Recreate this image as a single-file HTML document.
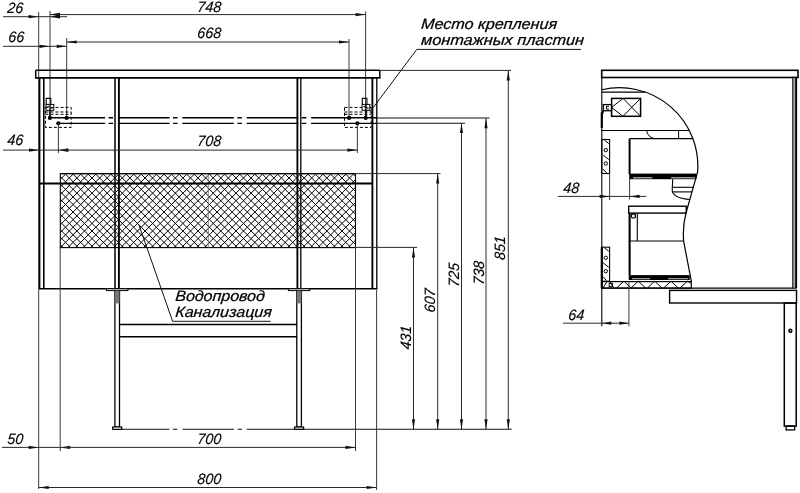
<!DOCTYPE html>
<html><head><meta charset="utf-8"><style>
html,body{margin:0;padding:0;background:#fff;overflow:hidden;width:800px;height:493px;}
svg{display:block;will-change:transform;}
text{font-family:"Liberation Sans",sans-serif;font-style:italic;fill:#000;stroke:#000;stroke-width:0.15;}
text.c{stroke:#000;stroke-width:0.25;}
</style></head><body>
<svg width="800" height="493" viewBox="0 0 800 493">
<rect width="800" height="493" fill="#fff"/>
<text x="7" y="13.5" font-size="15" text-anchor="start" transform="translate(7 13.5) skewX(-5) scale(0.95 1) translate(-7 -13.5)" >26</text>
<line x1="3" y1="16.7" x2="67" y2="16.7" stroke="#2a2a2a" stroke-width="1" />
<polygon points="38.5,16.7 28.5,15.1 28.5,18.3" fill="#111"/>
<polygon points="50,16.7 60,14.899999999999999 60,18.5" fill="#111"/>
<line x1="50" y1="14.6" x2="365.6" y2="14.6" stroke="#2a2a2a" stroke-width="1" />
<polygon points="50,14.6 60,12.799999999999999 60,16.4" fill="#111"/>
<polygon points="365.6,14.6 355.6,13.0 355.6,16.2" fill="#111"/>
<text x="209" y="11.5" font-size="15" text-anchor="middle" transform="translate(209 11.5) skewX(-5) scale(0.95 1) translate(-209 -11.5)" >748</text>
<line x1="38.7" y1="12" x2="38.7" y2="489" stroke="#3a3a3a" stroke-width="1" />
<line x1="50" y1="11" x2="50" y2="118" stroke="#3a3a3a" stroke-width="1" />
<line x1="365.6" y1="11.5" x2="365.6" y2="118" stroke="#3a3a3a" stroke-width="1" />
<text x="8" y="42.5" font-size="15" text-anchor="start" transform="translate(8 42.5) skewX(-5) scale(0.95 1) translate(-8 -42.5)" >66</text>
<line x1="3" y1="46.3" x2="66.7" y2="46.3" stroke="#2a2a2a" stroke-width="1" />
<polygon points="49.5,46.3 39.5,44.699999999999996 39.5,47.9" fill="#111"/>
<polygon points="66.7,46.3 56.7,44.699999999999996 56.7,47.9" fill="#111"/>
<line x1="66.7" y1="42" x2="349" y2="42" stroke="#2a2a2a" stroke-width="1" />
<polygon points="66.7,42 76.7,40.4 76.7,43.6" fill="#111"/>
<polygon points="349,42 339,40.4 339,43.6" fill="#111"/>
<text x="209" y="38.5" font-size="15" text-anchor="middle" transform="translate(209 38.5) skewX(-5) scale(0.95 1) translate(-209 -38.5)" >668</text>
<line x1="66.7" y1="38" x2="66.7" y2="118" stroke="#3a3a3a" stroke-width="1" />
<line x1="349" y1="39" x2="349" y2="118" stroke="#3a3a3a" stroke-width="1" />
<line x1="35.7" y1="70.3" x2="379.8" y2="70.3" stroke="#000" stroke-width="1.5" />
<line x1="35" y1="77.9" x2="380.5" y2="77.9" stroke="#000" stroke-width="1.9" />
<line x1="35.7" y1="70.3" x2="35.7" y2="77.9" stroke="#000" stroke-width="1.5" />
<line x1="379.8" y1="70.3" x2="379.8" y2="77.9" stroke="#000" stroke-width="1.5" />
<line x1="379.8" y1="70.4" x2="511" y2="70.4" stroke="#2a2a2a" stroke-width="1" />
<line x1="39.6" y1="77.3" x2="39.6" y2="288.8" stroke="#000" stroke-width="1.6" />
<line x1="43.8" y1="77.3" x2="43.8" y2="288.8" stroke="#000" stroke-width="1.6" />
<line x1="115" y1="77.3" x2="115" y2="288.8" stroke="#000" stroke-width="1.5" />
<line x1="118.9" y1="77.3" x2="118.9" y2="288.8" stroke="#000" stroke-width="1.9" />
<line x1="297.4" y1="77.3" x2="297.4" y2="288.8" stroke="#000" stroke-width="1.9" />
<line x1="300.8" y1="77.3" x2="300.8" y2="288.8" stroke="#000" stroke-width="1.3" />
<line x1="372.4" y1="77.3" x2="372.4" y2="288.8" stroke="#000" stroke-width="1.9" />
<line x1="376.8" y1="77.3" x2="376.8" y2="288.8" stroke="#000" stroke-width="1.3" />
<line x1="39" y1="288.8" x2="377.5" y2="288.8" stroke="#000" stroke-width="1.4" />
<path d="M49,117.8 L105.1,117.8 M108.6,117.8 L113.1,117.8 M117.9,117.8 L169.5,117.8 M173,117.8 L177.5,117.8 M182.3,117.8 L233.9,117.8 M237.4,117.8 L241.9,117.8 M246.7,117.8 L298.3,117.8 M301.8,117.8 L306.3,117.8 M311.1,117.8 L376.8,117.8" fill="none" stroke="#000" stroke-width="1.6" />
<line x1="376.8" y1="118" x2="489.5" y2="118" stroke="#111" stroke-width="1.2" />
<path d="M58.4,123.3 L105.1,123.3 M108.6,123.3 L113.1,123.3 M117.9,123.3 L169.5,123.3 M173,123.3 L177.5,123.3 M182.3,123.3 L233.9,123.3 M237.4,123.3 L241.9,123.3 M246.7,123.3 L298.3,123.3 M301.8,123.3 L306.3,123.3 M311.1,123.3 L376.8,123.3" fill="none" stroke="#000" stroke-width="1.2" />
<line x1="376.8" y1="123.2" x2="465" y2="123.2" stroke="#111" stroke-width="1.1" />
<rect x="45.5" y="107.4" width="25.7" height="20.0" stroke="#000" stroke-width="1" fill="none" stroke-dasharray="3 2"/>
<line x1="45.5" y1="112" x2="71.2" y2="112" stroke="#000" stroke-width="1" stroke-dasharray="3 2"/>
<line x1="45.5" y1="114.3" x2="71.2" y2="114.3" stroke="#000" stroke-width="1" stroke-dasharray="3 2"/>
<path d="M46.2,104.2 L46.2,98.4 L50.800000000000004,98.4 L50.800000000000004,104.2" fill="none" stroke="#000" stroke-width="1.1" />
<rect x="46.0" y="104.4" width="7.8" height="5.9" stroke="#000" stroke-width="1.0" fill="none" />
<path d="M50.0,104.4 L50.0,110.3 M47.400000000000006,106.5 L48.800000000000004,106.5 M51.2,108.2 L52.6,108.2" fill="none" stroke="#000" stroke-width="1" />
<line x1="50.0" y1="110.3" x2="50.0" y2="117" stroke="#000" stroke-width="1.4" />
<circle cx="49.9" cy="117.9" r="2.1" fill="#000"/>
<circle cx="66.6" cy="117.9" r="2.1" fill="#000"/>
<circle cx="58.4" cy="123.3" r="2.1" fill="#000"/>
<line x1="58.4" y1="123.3" x2="58.4" y2="153" stroke="#3a3a3a" stroke-width="1" />
<rect x="344.5" y="107.4" width="26.7" height="20.0" stroke="#000" stroke-width="1" fill="none" stroke-dasharray="3 2"/>
<line x1="344.5" y1="112" x2="371.2" y2="112" stroke="#000" stroke-width="1" stroke-dasharray="3 2"/>
<line x1="344.5" y1="114.3" x2="371.2" y2="114.3" stroke="#000" stroke-width="1" stroke-dasharray="3 2"/>
<path d="M362.3,104.2 L362.3,98.4 L366.90000000000003,98.4 L366.90000000000003,104.2" fill="none" stroke="#000" stroke-width="1.1" />
<rect x="362.1" y="104.4" width="7.8" height="5.9" stroke="#000" stroke-width="1.0" fill="none" />
<path d="M366.1,104.4 L366.1,110.3 M363.5,106.5 L364.90000000000003,106.5 M367.3,108.2 L368.7,108.2" fill="none" stroke="#000" stroke-width="1" />
<line x1="366.1" y1="110.3" x2="366.1" y2="117" stroke="#000" stroke-width="1.4" />
<circle cx="349.1" cy="117.9" r="2.1" fill="#000"/>
<circle cx="365.7" cy="117.9" r="2.1" fill="#000"/>
<circle cx="357.4" cy="123.3" r="2.1" fill="#000"/>
<line x1="357.4" y1="123.3" x2="357.4" y2="153" stroke="#3a3a3a" stroke-width="1" />
<text x="7" y="145.5" font-size="15" text-anchor="start" transform="translate(7 145.5) skewX(-5) scale(0.95 1) translate(-7 -145.5)" >46</text>
<line x1="3" y1="150.1" x2="58.4" y2="150.1" stroke="#2a2a2a" stroke-width="1" />
<polygon points="39,150.1 29,148.5 29,151.7" fill="#111"/>
<polygon points="58.4,150.1 68.4,148.29999999999998 68.4,151.9" fill="#111"/>
<line x1="58.4" y1="150.1" x2="357.4" y2="150.1" stroke="#2a2a2a" stroke-width="1" />
<polygon points="357.4,150.1 347.4,148.5 347.4,151.7" fill="#111"/>
<text x="209" y="146" font-size="15" text-anchor="middle" transform="translate(209 146) skewX(-5) scale(0.95 1) translate(-209 -146)" >708</text>
<clipPath id="hc"><rect x="60.3" y="173.6" width="295.20" height="74.00"/></clipPath>
<path d="M-26.00,173.6 L48.00,247.6 M-24.80,173.6 L-98.80,247.6 M-18.42,173.6 L55.58,247.6 M-17.23,173.6 L-91.23,247.6 M-10.85,173.6 L63.15,247.6 M-9.65,173.6 L-83.65,247.6 M-3.27,173.6 L70.73,247.6 M-2.08,173.6 L-76.08,247.6 M4.30,173.6 L78.30,247.6 M5.50,173.6 L-68.50,247.6 M11.88,173.6 L85.88,247.6 M13.07,173.6 L-60.93,247.6 M19.45,173.6 L93.45,247.6 M20.65,173.6 L-53.35,247.6 M27.03,173.6 L101.03,247.6 M28.22,173.6 L-45.78,247.6 M34.60,173.6 L108.60,247.6 M35.80,173.6 L-38.20,247.6 M42.18,173.6 L116.18,247.6 M43.37,173.6 L-30.63,247.6 M49.75,173.6 L123.75,247.6 M50.95,173.6 L-23.05,247.6 M57.33,173.6 L131.32,247.6 M58.52,173.6 L-15.48,247.6 M64.90,173.6 L138.90,247.6 M66.10,173.6 L-7.90,247.6 M72.48,173.6 L146.48,247.6 M73.67,173.6 L-0.33,247.6 M80.05,173.6 L154.05,247.6 M81.25,173.6 L7.25,247.6 M87.62,173.6 L161.62,247.6 M88.82,173.6 L14.82,247.6 M95.20,173.6 L169.20,247.6 M96.40,173.6 L22.40,247.6 M102.78,173.6 L176.78,247.6 M103.97,173.6 L29.97,247.6 M110.35,173.6 L184.35,247.6 M111.55,173.6 L37.55,247.6 M117.93,173.6 L191.93,247.6 M119.12,173.6 L45.12,247.6 M125.50,173.6 L199.50,247.6 M126.70,173.6 L52.70,247.6 M133.08,173.6 L207.08,247.6 M134.28,173.6 L60.28,247.6 M140.65,173.6 L214.65,247.6 M141.85,173.6 L67.85,247.6 M148.22,173.6 L222.22,247.6 M149.42,173.6 L75.42,247.6 M155.80,173.6 L229.80,247.6 M157.00,173.6 L83.00,247.6 M163.38,173.6 L237.38,247.6 M164.58,173.6 L90.58,247.6 M170.95,173.6 L244.95,247.6 M172.15,173.6 L98.15,247.6 M178.53,173.6 L252.53,247.6 M179.72,173.6 L105.72,247.6 M186.10,173.6 L260.10,247.6 M187.30,173.6 L113.30,247.6 M193.68,173.6 L267.68,247.6 M194.88,173.6 L120.88,247.6 M201.25,173.6 L275.25,247.6 M202.45,173.6 L128.45,247.6 M208.83,173.6 L282.83,247.6 M210.03,173.6 L136.03,247.6 M216.40,173.6 L290.40,247.6 M217.60,173.6 L143.60,247.6 M223.98,173.6 L297.98,247.6 M225.18,173.6 L151.18,247.6 M231.55,173.6 L305.55,247.6 M232.75,173.6 L158.75,247.6 M239.12,173.6 L313.12,247.6 M240.32,173.6 L166.32,247.6 M246.70,173.6 L320.70,247.6 M247.90,173.6 L173.90,247.6 M254.28,173.6 L328.27,247.6 M255.47,173.6 L181.47,247.6 M261.85,173.6 L335.85,247.6 M263.05,173.6 L189.05,247.6 M269.42,173.6 L343.42,247.6 M270.62,173.6 L196.62,247.6 M277.00,173.6 L351.00,247.6 M278.20,173.6 L204.20,247.6 M284.58,173.6 L358.58,247.6 M285.77,173.6 L211.78,247.6 M292.15,173.6 L366.15,247.6 M293.35,173.6 L219.35,247.6 M299.73,173.6 L373.73,247.6 M300.93,173.6 L226.93,247.6 M307.30,173.6 L381.30,247.6 M308.50,173.6 L234.50,247.6 M314.88,173.6 L388.88,247.6 M316.08,173.6 L242.08,247.6 M322.45,173.6 L396.45,247.6 M323.65,173.6 L249.65,247.6 M330.02,173.6 L404.02,247.6 M331.23,173.6 L257.23,247.6 M337.60,173.6 L411.60,247.6 M338.80,173.6 L264.80,247.6 M345.18,173.6 L419.18,247.6 M346.38,173.6 L272.38,247.6 M352.75,173.6 L426.75,247.6 M353.95,173.6 L279.95,247.6 M360.33,173.6 L434.33,247.6 M361.52,173.6 L287.52,247.6 M367.90,173.6 L441.90,247.6 M369.10,173.6 L295.10,247.6 M375.48,173.6 L449.48,247.6 M376.67,173.6 L302.67,247.6 M383.05,173.6 L457.05,247.6 M384.25,173.6 L310.25,247.6 M390.62,173.6 L464.62,247.6 M391.83,173.6 L317.83,247.6 M398.20,173.6 L472.20,247.6 M399.40,173.6 L325.40,247.6 M405.77,173.6 L479.77,247.6 M406.98,173.6 L332.98,247.6 M413.35,173.6 L487.35,247.6 M414.55,173.6 L340.55,247.6 M420.93,173.6 L494.93,247.6 M422.12,173.6 L348.12,247.6 M428.50,173.6 L502.50,247.6 M429.70,173.6 L355.70,247.6 M436.08,173.6 L510.08,247.6 M437.27,173.6 L363.27,247.6 " stroke="#000" stroke-width="1.0" fill="none" clip-path="url(#hc)"/>
<rect x="60.3" y="173.6" width="295.2" height="74.0" stroke="#000" stroke-width="1.1" fill="none" />
<line x1="208.3" y1="173.6" x2="208.3" y2="247.6" stroke="#777" stroke-width="0.9" />
<line x1="60.3" y1="173.6" x2="355.5" y2="173.6" stroke="#000" stroke-width="1.4" />
<line x1="39.6" y1="183.4" x2="372.4" y2="183.4" stroke="#000" stroke-width="2" />
<line x1="355.5" y1="173.6" x2="440.5" y2="173.6" stroke="#2a2a2a" stroke-width="1" />
<line x1="355.5" y1="247.4" x2="417" y2="247.4" stroke="#2a2a2a" stroke-width="1" />
<line x1="355.5" y1="247" x2="355.5" y2="451" stroke="#3a3a3a" stroke-width="1" />
<line x1="60.2" y1="247" x2="60.2" y2="451" stroke="#3a3a3a" stroke-width="1" />
<rect x="106.5" y="288.8" width="21.4" height="1.8" stroke="#000" stroke-width="1" fill="#fff" />
<rect x="114.9" y="290.6" width="4.6" height="136.4" stroke="#000" stroke-width="1.3" fill="none" />
<rect x="114.9" y="290.6" width="4.6" height="12.8" stroke="#000" stroke-width="0" fill="#777" />
<rect x="112.7" y="427" width="9.0" height="2.4" stroke="#000" stroke-width="1.2" fill="#fff" />
<rect x="288.40000000000003" y="288.8" width="21.4" height="1.8" stroke="#000" stroke-width="1" fill="#fff" />
<rect x="296.8" y="290.6" width="4.6" height="136.4" stroke="#000" stroke-width="1.3" fill="none" />
<rect x="296.8" y="290.6" width="4.6" height="12.8" stroke="#000" stroke-width="0" fill="#777" />
<rect x="294.6" y="427" width="9.0" height="2.4" stroke="#000" stroke-width="1.2" fill="#fff" />
<line x1="119.5" y1="324.4" x2="297" y2="324.4" stroke="#000" stroke-width="1.5" />
<line x1="119.5" y1="336.8" x2="297" y2="336.8" stroke="#000" stroke-width="1.5" />
<path d="M122,429.3 L169.3,429.3 M172.8,429.3 L177.3,429.3 M182.5,429.3 L234,429.3 M237.6,429.3 L242.1,429.3 M246.7,429.3 L511.6,429.3" fill="none" stroke="#111" stroke-width="1.1" />
<line x1="138.8" y1="224.5" x2="172.6" y2="321.3" stroke="#111" stroke-width="1" />
<text x="175" y="301.5" font-size="15" text-anchor="start" transform="translate(175 301.5) skewX(-5) scale(1.0 1) translate(-175 -301.5)" class="c" textLength="89.5" lengthAdjust="spacingAndGlyphs">Водопровод</text>
<text x="175" y="317.3" font-size="15" text-anchor="start" transform="translate(175 317.3) skewX(-5) scale(1.0 1) translate(-175 -317.3)" class="c" textLength="96.5" lengthAdjust="spacingAndGlyphs">Канализация</text>
<line x1="172.6" y1="321.3" x2="270.5" y2="321.3" stroke="#111" stroke-width="1" />
<text x="420.8" y="29.1" font-size="15" text-anchor="start" transform="translate(420.8 29.1) skewX(-5) scale(1.0 1) translate(-420.8 -29.1)" class="c" textLength="136" lengthAdjust="spacingAndGlyphs">Место крепления</text>
<text x="420.8" y="44.9" font-size="15" text-anchor="start" transform="translate(420.8 44.9) skewX(-5) scale(1.0 1) translate(-420.8 -44.9)" class="c" textLength="163" lengthAdjust="spacingAndGlyphs">монтажных пластин</text>
<line x1="416.8" y1="49.4" x2="581" y2="49.4" stroke="#111" stroke-width="1" />
<line x1="416.8" y1="49.4" x2="370.8" y2="110.8" stroke="#111" stroke-width="1" />
<line x1="413.5" y1="247.6" x2="413.5" y2="429.3" stroke="#2a2a2a" stroke-width="1" />
<polygon points="413.5,247.6 411.9,257.6 415.1,257.6" fill="#111"/>
<polygon points="413.5,429.3 411.9,419.3 415.1,419.3" fill="#111"/>
<text x="411.2" y="337.9" font-size="15" text-anchor="middle" transform="rotate(-90 411.2 337.9) translate(411.2 337.9) skewX(-5) scale(0.95 1) translate(-411.2 -337.9)" >431</text>
<line x1="437.7" y1="173.6" x2="437.7" y2="429.3" stroke="#2a2a2a" stroke-width="1" />
<polygon points="437.7,173.6 436.09999999999997,183.6 439.3,183.6" fill="#111"/>
<polygon points="437.7,429.3 436.09999999999997,419.3 439.3,419.3" fill="#111"/>
<text x="435.4" y="300.8" font-size="15" text-anchor="middle" transform="rotate(-90 435.4 300.8) translate(435.4 300.8) skewX(-5) scale(0.95 1) translate(-435.4 -300.8)" >607</text>
<line x1="461.5" y1="123" x2="461.5" y2="429.3" stroke="#2a2a2a" stroke-width="1" />
<polygon points="461.5,123 459.9,133 463.1,133" fill="#111"/>
<polygon points="461.5,429.3 459.9,419.3 463.1,419.3" fill="#111"/>
<text x="459.5" y="275.2" font-size="15" text-anchor="middle" transform="rotate(-90 459.5 275.2) translate(459.5 275.2) skewX(-5) scale(0.95 1) translate(-459.5 -275.2)" >725</text>
<line x1="486" y1="118.2" x2="486" y2="429.3" stroke="#2a2a2a" stroke-width="1" />
<polygon points="486,118.2 484.4,128.2 487.6,128.2" fill="#111"/>
<polygon points="486,429.3 484.4,419.3 487.6,419.3" fill="#111"/>
<text x="483.7" y="273.1" font-size="15" text-anchor="middle" transform="rotate(-90 483.7 273.1) translate(483.7 273.1) skewX(-5) scale(0.95 1) translate(-483.7 -273.1)" >738</text>
<line x1="508.3" y1="70.4" x2="508.3" y2="429.3" stroke="#2a2a2a" stroke-width="1" />
<polygon points="508.3,70.4 506.7,80.4 509.90000000000003,80.4" fill="#111"/>
<polygon points="508.3,429.3 506.7,419.3 509.90000000000003,419.3" fill="#111"/>
<text x="505.4" y="248.4" font-size="15" text-anchor="middle" transform="rotate(-90 505.4 248.4) translate(505.4 248.4) skewX(-5) scale(0.95 1) translate(-505.4 -248.4)" >851</text>
<text x="7" y="444.5" font-size="15" text-anchor="start" transform="translate(7 444.5) skewX(-5) scale(0.95 1) translate(-7 -444.5)" >50</text>
<line x1="2" y1="447.4" x2="60.2" y2="447.4" stroke="#2a2a2a" stroke-width="1" />
<polygon points="38.7,447.4 28.700000000000003,445.79999999999995 28.700000000000003,449.0" fill="#111"/>
<polygon points="60.2,447.4 70.2,445.79999999999995 70.2,449.0" fill="#111"/>
<line x1="60.2" y1="447.4" x2="355.5" y2="447.4" stroke="#2a2a2a" stroke-width="1" />
<polygon points="355.5,447.4 345.5,445.79999999999995 345.5,449.0" fill="#111"/>
<text x="209" y="444.3" font-size="15" text-anchor="middle" transform="translate(209 444.3) skewX(-5) scale(0.95 1) translate(-209 -444.3)" >700</text>
<line x1="38.7" y1="487.5" x2="376.6" y2="487.5" stroke="#2a2a2a" stroke-width="1" />
<polygon points="38.7,487.5 48.7,485.9 48.7,489.1" fill="#111"/>
<polygon points="376.6,487.5 366.6,485.9 366.6,489.1" fill="#111"/>
<line x1="376.6" y1="290" x2="376.6" y2="490" stroke="#3a3a3a" stroke-width="1" />
<text x="209" y="483.7" font-size="15" text-anchor="middle" transform="translate(209 483.7) skewX(-5) scale(0.95 1) translate(-209 -483.7)" >800</text>
<rect x="601.7" y="70.3" width="196.3" height="7.2" stroke="#000" stroke-width="1.6" fill="none" />
<rect x="792.8" y="77.3" width="3.4" height="210.9" stroke="#000" stroke-width="1" fill="#aaa" />
<line x1="796.2" y1="77.3" x2="796.2" y2="288.2" stroke="#000" stroke-width="1.8" />
<line x1="601.8" y1="77.3" x2="601.8" y2="326.3" stroke="#000" stroke-width="1.1" />
<line x1="601.8" y1="112.4" x2="601.8" y2="128" stroke="#000" stroke-width="2.2" />
<line x1="601.8" y1="247.2" x2="601.8" y2="288.2" stroke="#000" stroke-width="2.2" />
<path d="M601.8,89.75 A78.3,78.3 0 0 1 697.6,172 L686,213 Q682.5,226 683.6,241 L691.3,281.2" fill="none" stroke="#000" stroke-width="1.2" />
<line x1="601.8" y1="92.2" x2="645.2" y2="92.2" stroke="#000" stroke-width="1.2" />
<rect x="611.6" y="98.4" width="29.0" height="17.9" stroke="#000" stroke-width="1.5" fill="none" />
<path d="M611.6,107.4 L623,98.4 L640.6,116.3 M611.6,107.4 L623,116.3 L640.6,98.4" fill="none" stroke="#000" stroke-width="1" />
<rect x="603.3" y="104.6" width="8.3" height="6.1" stroke="#000" stroke-width="1.3" fill="none" />
<path d="M609,106.3 L606.5,106.3 L606.5,109 L609,109" fill="none" stroke="#000" stroke-width="1" />
<line x1="603.3" y1="110.7" x2="601.8" y2="115" stroke="#000" stroke-width="1.8" />
<line x1="601.8" y1="130.5" x2="689.3" y2="130.5" stroke="#000" stroke-width="1.2" />
<path d="M646.5,130.5 Q648,138 655.5,138.7" fill="none" stroke="#000" stroke-width="1" />
<line x1="678.6" y1="130.5" x2="678.6" y2="138.7" stroke="#000" stroke-width="1" />
<line x1="629.6" y1="138.7" x2="692.9" y2="138.7" stroke="#000" stroke-width="1.3" />
<line x1="629.6" y1="138.7" x2="629.6" y2="174" stroke="#000" stroke-width="2" />
<line x1="629.6" y1="174" x2="629.6" y2="199.5" stroke="#3a3a3a" stroke-width="1" />
<rect x="629.6" y="173.6" width="66.9" height="5.6" stroke="#000" stroke-width="0" fill="#000" />
<rect x="633" y="177" width="19.4" height="1.5" stroke="#000" stroke-width="0" fill="#999" />
<rect x="671.1" y="177" width="23.9" height="1.5" stroke="#000" stroke-width="0" fill="#999" />
<path d="M672.7,179.2 L672.2,190.9 Q674,198.5 690,199.5" fill="none" stroke="#000" stroke-width="1.1" />
<line x1="672.5" y1="187.3" x2="693.4" y2="187.3" stroke="#000" stroke-width="1.1" />
<line x1="672.3" y1="191.9" x2="692.1" y2="191.9" stroke="#000" stroke-width="1.1" />
<rect x="601.8" y="139.5" width="7.8" height="34.0" stroke="#000" stroke-width="1.1" fill="none" />
<path d="M604.4,140.1 L608.8,143.5 M603.2,155.1 L608.8,159.6 M603.2,169.1 L606.5,172.9" fill="none" stroke="#000" stroke-width="1" />
<circle cx="605.8" cy="150.1" r="1.7" fill="none" stroke="#000" stroke-width="1"/>
<circle cx="605.8" cy="163.5" r="1.7" fill="none" stroke="#000" stroke-width="1"/>
<rect x="601.8" y="247.2" width="7.8" height="34.0" stroke="#000" stroke-width="1.1" fill="none" />
<path d="M604.4,247.79999999999998 L608.8,251.2 M603.2,262.8 L608.8,267.3 M603.2,276.8 L606.5,280.59999999999997" fill="none" stroke="#000" stroke-width="1" />
<circle cx="605.8" cy="257.8" r="1.7" fill="none" stroke="#000" stroke-width="1"/>
<circle cx="605.8" cy="271.2" r="1.7" fill="none" stroke="#000" stroke-width="1"/>
<line x1="609.6" y1="173.5" x2="609.6" y2="200" stroke="#3a3a3a" stroke-width="1" />
<text x="563" y="193.4" font-size="15" text-anchor="start" transform="translate(563 193.4) skewX(-5) scale(0.95 1) translate(-563 -193.4)" >48</text>
<line x1="558" y1="196.4" x2="646.3" y2="196.4" stroke="#2a2a2a" stroke-width="1" />
<polygon points="609.6,196.4 599.6,194.8 599.6,198.0" fill="#111"/>
<polygon points="629.6,196.4 639.6,194.8 639.6,198.0" fill="#111"/>
<rect x="628.7" y="206.2" width="57.6" height="6.9" stroke="#000" stroke-width="1.4" fill="none" />
<line x1="629.6" y1="213.1" x2="629.6" y2="275.1" stroke="#000" stroke-width="2.1" />
<line x1="637.3" y1="213.1" x2="637.3" y2="241" stroke="#000" stroke-width="1.1" />
<line x1="628.7" y1="241" x2="683.6" y2="241" stroke="#000" stroke-width="1.1" />
<circle cx="633.4" cy="215.9" r="2.1" fill="none" stroke="#000" stroke-width="1.2"/>
<rect x="628.7" y="275.1" width="61.0" height="4.9" stroke="#000" stroke-width="0" fill="#000" />
<rect x="632" y="278" width="18" height="1.3" stroke="#000" stroke-width="0" fill="#999" />
<rect x="668" y="278" width="20" height="1.3" stroke="#000" stroke-width="0" fill="#999" />
<rect x="601.8" y="281.6" width="89.5" height="6.5" stroke="#000" stroke-width="1.2" fill="none" />
<path d="M603,288.1 L607,281.5 M609.6,281.5 L614,288.1 M616.5,288.1 L623.9,281.2 L631.3,288.1 M630.9,288.1 L638.3,281.2 L645.6999999999999,288.1 M647.3000000000001,288.1 L654.7,281.2 L662.1,288.1 M663.6,288.1 L671,281.2 L678.4,288.1 M680.0,288.1 L687.4,281.2 L690.8,283" fill="none" stroke="#000" stroke-width="1" />
<rect x="609.2" y="283.3" width="3.2" height="3.3" stroke="#000" stroke-width="1" fill="none" />
<line x1="601.8" y1="288.1" x2="792.8" y2="288.1" stroke="#000" stroke-width="1.2" />
<rect x="669.6" y="290.4" width="126.9" height="12.6" stroke="#000" stroke-width="1.4" fill="none" />
<rect x="784.3" y="303" width="11.9" height="123.1" stroke="#000" stroke-width="1.5" fill="none" />
<rect x="786.1" y="426.1" width="8.6" height="3.8" stroke="#000" stroke-width="1.3" fill="none" />
<circle cx="790.4" cy="330.7" r="1.4" fill="none" stroke="#000" stroke-width="1.6"/>
<text x="568" y="320" font-size="15" text-anchor="start" transform="translate(568 320) skewX(-5) scale(0.95 1) translate(-568 -320)" >64</text>
<line x1="563" y1="323.2" x2="628.9" y2="323.2" stroke="#2a2a2a" stroke-width="1" />
<polygon points="601.8,323.2 611.3,321.59999999999997 611.3,324.8" fill="#111"/>
<polygon points="628.9,323.2 619.4,321.59999999999997 619.4,324.8" fill="#111"/>
<line x1="628.9" y1="281" x2="628.9" y2="326.3" stroke="#3a3a3a" stroke-width="1" />
</svg>
</body></html>
